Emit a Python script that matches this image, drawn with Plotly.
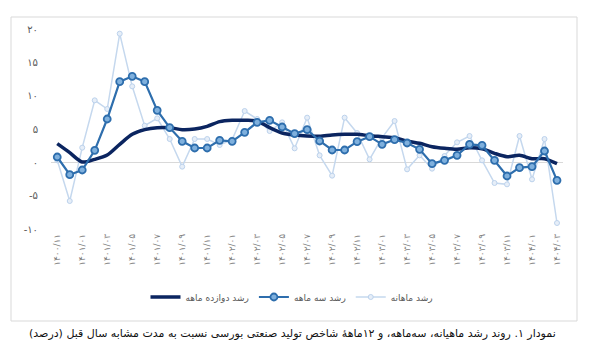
import plotly.graph_objects as go

# ---------------- data ----------------
months = [
    "1400/11", "1400/12",
    "1401/01", "1401/02", "1401/03", "1401/04", "1401/05", "1401/06",
    "1401/07", "1401/08", "1401/09", "1401/10", "1401/11", "1401/12",
    "1402/01", "1402/02", "1402/03", "1402/04", "1402/05", "1402/06",
    "1402/07", "1402/08", "1402/09", "1402/10", "1402/11", "1402/12",
    "1403/01", "1403/02", "1403/03", "1403/04", "1403/05", "1403/06",
    "1403/07", "1403/08", "1403/09", "1403/10", "1403/11", "1403/12",
    "1404/01", "1404/02", "1404/03",
]

growth_12m = [2.8, 1.45, 0.05, 0.45, 1.1, 2.7, 4.2, 4.9, 5.2, 5.2,
              4.9, 5.0, 5.4, 6.1, 6.3, 6.3, 6.2, 5.2, 4.4, 4.1,
              3.95, 3.9, 4.1, 4.2, 4.2, 4.0, 3.85, 3.7, 3.2, 2.85,
              2.35, 2.1, 1.95, 2.2, 2.05, 1.35, 0.85, 1.05, 0.55, 0.55,
              -0.2]

growth_3m = [0.8, -1.85, -1.15, 1.8, 6.5, 12.1, 12.9, 12.1, 7.8, 5.2,
             3.15, 2.15, 2.15, 3.3, 3.15, 4.5, 6.0, 6.3, 5.3, 4.3,
             4.9, 3.2, 1.85, 1.85, 3.1, 3.85, 2.7, 3.4, 2.9, 1.95,
             -0.2, 0.3, 1.05, 2.7, 2.55, 0.3, -2.05, -0.8, -0.65, 1.7,
             -2.7]

growth_1m = [0.3, -5.8, 2.2, 9.3, 8.0, 19.3, 11.4, 5.5, 6.6, 3.5,
             -0.65, 3.5, 3.5, 2.6, 3.4, 7.7, 6.5, 4.7, 6.0, 2.1,
             6.7, 1.05, -2.0, 6.7, 4.4, 0.45, 3.7, 6.2, -1.05, 1.05,
             -0.95, 0.95, 3.0, 3.95, 0.3, -3.1, -3.3, 3.95, -2.55, 3.5,
             -9.1]

y_ticks = [-10, -5, 0, 5, 10, 15, 20]

name_12m = "رشد دوازده ماهه"
name_3m = "رشد سه ماهه"
name_1m = "رشد ماهانه"
caption = "نمودار ۱. روند رشد ماهیانه، سه‌ماهه، و ۱۲ماهۀ شاخص تولید صنعتی بورسی نسبت به مدت مشابه سال قبل (درصد)\u200f"

# ---------------- helpers ----------------
FA = str.maketrans("0123456789", "۰۱۲۳۴۵۶۷۸۹")


def fa(s):
    return str(s).translate(FA)


cats = [fa(m) for m in months]
tick_cats = cats[::2]

# the page body has an 8px margin; lay out in window pixels and shift
OFF = 8
W, H = 595 - OFF, 363 - OFF


def px(x):
    return (x - OFF) / W


def py(y):
    return 1 - (y - OFF) / H


FONT = "DejaVu Sans"

fig = go.Figure()

fig.add_trace(go.Scatter(
    x=cats, y=growth_1m, name=name_1m, mode="lines+markers",
    line=dict(color="#C5D8EE", width=1.5),
    marker=dict(symbol="circle", size=5, color="#E6EEF8",
                line=dict(color="#BCD2EC", width=1)),
    legendrank=3,
))
fig.add_trace(go.Scatter(
    x=cats, y=growth_12m, name=name_12m, mode="lines",
    line=dict(color="#0B2560", width=3.5, shape="spline", smoothing=0.8),
    legendrank=1,
))
fig.add_trace(go.Scatter(
    x=cats, y=growth_3m, name=name_3m, mode="lines+markers",
    line=dict(color="#2E6EAD", width=2.2),
    marker=dict(symbol="circle", size=7, color="#7FB0DD",
                line=dict(color="#2E6EAD", width=1.8)),
    legendrank=2,
))

fig.update_layout(
    width=W, height=H,
    margin=dict(l=0, r=0, t=0, b=0),
    paper_bgcolor="white",
    plot_bgcolor="white",
    font=dict(family=FONT, color="#595959", size=10),
    showlegend=True,
    legend=dict(
        orientation="h",
        x=px(292), xanchor="center",
        y=py(297), yanchor="middle",
        font=dict(family=FONT, size=9, color="#595959"),
        traceorder="normal",
        itemwidth=30,
        bgcolor="rgba(0,0,0,0)",
    ),
    xaxis=dict(
        type="category",
        domain=[px(51), px(563.25)],
        range=[-0.5, len(cats) - 0.5],
        tickmode="array",
        tickvals=tick_cats,
        ticktext=tick_cats,
        tickangle=-90,
        tickfont=dict(family=FONT, size=9, color="#7F7F7F"),
        showgrid=False,
        showline=False,
        zeroline=False,
        ticks="",
        ticklabelstandoff=2,
        automargin=False,
    ),
    yaxis=dict(
        domain=[py(229), py(29)],
        range=[-10, 20],
        tickmode="array",
        tickvals=y_ticks,
        ticktext=[fa(v) for v in y_ticks],
        tickfont=dict(family=FONT, size=10, color="#595959"),
        showgrid=False,
        showline=False,
        zeroline=True,
        zerolinecolor="#D9D9D9",
        zerolinewidth=1,
        ticks="",
        ticklabelstandoff=12,
        automargin=False,
    ),
    shapes=[dict(
        type="rect", xref="paper", yref="paper",
        x0=px(11), x1=px(577), y0=py(321), y1=py(17),
        line=dict(color="#D9D9D9", width=1),
        fillcolor="rgba(0,0,0,0)", layer="below",
    )],
    annotations=[dict(
        text=caption, xref="paper", yref="paper",
        x=px(292), y=py(333), xanchor="center", yanchor="middle",
        showarrow=False,
        font=dict(family=FONT, size=11, color="#111111"),
    )],
)

fig.write_html("out.html")
